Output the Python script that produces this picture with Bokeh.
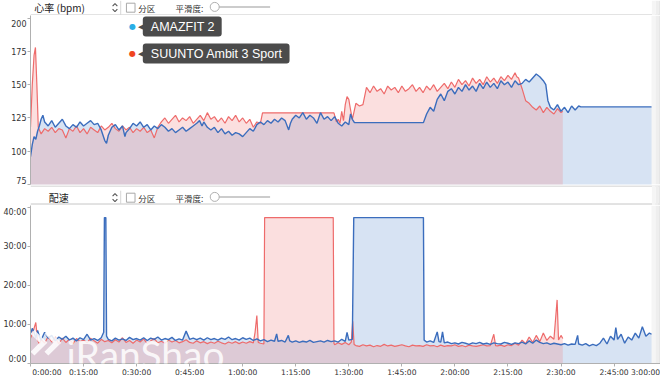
from bokeh.plotting import figure
from bokeh.layouts import column
from bokeh.models import Range1d, FixedTicker, Label
from bokeh.embed import file_html
from bokeh.resources import INLINE
from bokeh.core.properties import value

# ---------------- data (time in minutes, value) ----------------
series_names = ["AMAZFIT 2", "SUUNTO Ambit 3 Sport"]

hr_amazfit = [
    (0, 96), (0.5, 105), (1, 111), (1.5, 109), (2, 115), (2.5, 119), (3, 124), (3.5, 127), (4, 122),
    (5, 119), (6, 123), (7, 118), (8, 121), (9, 124), (10, 119), (11, 117), (12, 120), (13, 118),
    (14, 122), (15, 119), (16, 121), (17, 123), (18, 120), (19, 121), (20, 116), (21, 108), (21.5, 106),
    (22, 112), (23, 118), (24, 120), (25, 116), (26, 119), (26.7, 111), (27, 114), (28, 117), (29, 121),
    (30, 119), (31, 122), (32, 118), (33, 120), (34, 116), (35, 119), (36, 117), (37, 120), (38, 118),
    (39, 115), (40, 117), (41, 114), (42, 116), (43, 118), (44, 115), (45, 117), (46, 119), (47, 121),
    (47.8, 123), (48.5, 119), (49, 122), (50, 118), (51, 116), (52, 118), (53, 114), (54, 117), (55, 113),
    (56, 115), (57, 112), (58, 114), (59, 113), (60, 111), (61, 114), (62, 117), (63, 115), (64, 120),
    (65, 122), (66, 120), (67, 123), (68, 121), (69, 124), (70, 122), (71, 125), (72, 123), (73, 116),
    (73.5, 121), (74, 124), (75, 127), (76, 125), (77, 129), (78, 124), (79, 127), (80, 125), (81, 121),
    (82, 129), (83, 124), (84, 126), (85, 123), (86, 126), (87, 121), (88, 119), (89, 122), (90, 120),
    (90.5, 128), (91, 124), (91.6, 121.5), (111.1, 121.5), (112, 128), (113, 133), (114, 130), (115, 139),
    (116, 143), (117, 138), (118, 145), (119, 147), (120, 143), (121, 148), (122, 145), (123, 150),
    (124, 146), (125, 149), (126, 145), (127, 151), (128, 147), (129, 152), (130, 148), (131, 151),
    (132, 147), (133, 153), (134, 150), (135, 152), (136, 148), (137, 153), (138, 150), (139, 151),
    (140, 154), (141, 152), (142, 155), (143, 158), (144, 156), (145, 153), (145.7, 150), (146.3, 138),
    (147, 133), (148, 131), (149, 135), (150, 130), (151, 133), (152, 129), (153, 134), (154, 131),
    (155, 134), (155.6, 133.3), (175.6, 133.3),
]

hr_suunto = [
    (0, 118), (0.5, 150), (1, 172), (1.4, 178), (1.8, 150), (2.2, 118), (3, 113), (4, 117), (5, 115),
    (6, 118), (7, 114), (8, 117), (9, 116), (10, 110), (11, 117), (12, 115), (13, 119), (14, 114),
    (15, 117), (16, 113), (17, 118), (18, 116), (19, 114), (20, 119), (21, 116), (22, 118), (23, 121),
    (24, 117), (25, 115), (26, 119), (27, 116), (28, 118), (29, 114), (30, 117), (31, 115), (32, 118),
    (33, 114), (34, 116), (35, 110), (36, 118), (37, 122), (38, 125), (39, 121), (40, 124), (41, 127),
    (42, 122), (43, 125), (44, 123), (45, 126), (46, 121), (47, 124), (48, 127), (49, 123), (50, 129),
    (51, 124), (52, 126), (53, 122), (54, 125), (55, 121), (56, 126), (57, 123), (58, 127), (59, 122),
    (60, 125), (61, 121), (62, 124), (63, 118), (64, 122), (65, 121), (65.6, 128.8), (85.8, 128.8),
    (86.5, 122), (87, 124), (87.5, 121), (88, 130), (88.5, 123), (89, 135), (89.5, 141), (90, 139),
    (90.5, 131), (91, 124), (91.5, 130), (92, 136), (93, 134), (94, 135), (95, 148), (96, 144), (97, 149),
    (98, 145), (99, 147), (100, 143), (101, 149), (102, 146), (103, 148), (104, 144), (105, 149),
    (106, 145), (107, 147), (108, 150), (109, 145), (110, 148), (111, 144), (112, 149), (113, 146),
    (114, 150), (115, 145), (116, 148), (117, 151), (118, 147), (119, 152), (120, 148), (121, 154),
    (122, 150), (123, 153), (124, 149), (125, 155), (126, 151), (127, 154), (128, 150), (129, 156),
    (130, 152), (131, 155), (132, 151), (133, 156), (134, 153), (135, 157), (136, 154), (137, 159),
    (137.5, 156), (138, 155), (139, 147), (140, 138), (141, 136), (142, 133), (143, 131), (144, 134),
    (145, 129), (146, 133), (147, 130), (148, 128), (149, 132), (150, 129), (150.5, 130),
]

pace_amazfit = [
    (0, 7.5), (0.5, 9.0), (1, 8.0), (1.5, 6.5), (2, 8.5), (2.5, 7.0), (3, 6.0), (4, 8.0), (5, 6.5),
    (6, 7.2), (7, 5.8), (8, 6.8), (9, 6.2), (10, 7.0), (11, 6.0), (12, 6.5), (13, 5.8), (14, 6.6),
    (15, 6.1), (16, 7.5), (17, 6.0), (18, 6.4), (19, 5.9), (20, 6.6), (20.7, 8.0), (20.9, 37.4),
    (21.3, 37.4), (21.5, 7.0), (22, 6.2), (23, 5.8), (24, 6.5), (25, 6.0), (26, 6.3), (27, 5.9),
    (28, 6.7), (29, 6.1), (30, 6.4), (31, 6.0), (32, 6.6), (33, 5.9), (34, 6.5), (35, 6.2), (36, 6.8),
    (37, 6.0), (38, 6.4), (39, 6.1), (40, 6.7), (41, 5.9), (42, 6.3), (43, 6.0), (44, 8.3), (45, 6.2),
    (46, 6.5), (47, 6.1), (48, 6.5), (49, 6.0), (50, 6.6), (51, 6.1), (52, 6.4), (53, 6.0), (54, 6.5),
    (55, 6.2), (56, 6.8), (57, 6.1), (58, 6.4), (59, 6.0), (60, 6.6), (61, 6.2), (62, 6.5), (63, 5.9),
    (64, 6.3), (65, 5.8), (66, 6.1), (67, 5.6), (68, 6.0), (69, 5.7), (69.6, 7.6), (70, 5.7), (71, 5.9),
    (72, 5.5), (72.9, 7.2), (73.3, 5.8), (74, 5.5), (75, 5.8), (76, 5.4), (77, 5.7), (78, 5.5), (79, 5.9),
    (80, 5.4), (81, 5.6), (82, 5.8), (83, 5.5), (84, 5.9), (85, 5.6), (86, 5.8), (87, 5.5), (88, 6.2),
    (89, 5.7), (89.5, 8.0), (90, 6.0), (91, 6.2), (91.4, 37.4), (111.1, 37.4), (111.3, 6.0), (112, 5.5),
    (113, 5.8), (114, 5.4), (115, 8.1), (115.5, 5.6), (116, 5.5), (116.5, 8.1), (117, 5.3), (118, 5.5),
    (119, 5.1), (120, 5.3), (121, 5.0), (122, 5.4), (123, 5.2), (124, 4.9), (125, 5.3), (126, 5.1),
    (127, 5.4), (128, 5.0), (129, 5.2), (130, 4.9), (131, 5.3), (132, 5.1), (133, 5.0), (134, 5.4),
    (135, 5.2), (136, 4.9), (137, 5.3), (138, 5.1), (139, 5.5), (140, 5.0), (141, 5.8), (142, 5.2),
    (143, 6.0), (144, 5.4), (145, 5.1), (146, 5.3), (147, 4.9), (148, 5.2), (149, 5.0), (150, 4.8),
    (151, 5.1), (152, 4.7), (153, 5.0), (154, 4.9), (154.7, 7.2), (155, 5.0), (156, 4.7), (157, 5.1),
    (158, 4.5), (159, 4.9), (160, 4.6), (161, 5.2), (162, 6.5), (163, 5.0), (164, 7.0), (165, 6.0),
    (165.5, 9.2), (166, 6.2), (167, 7.5), (168, 5.2), (169, 6.8), (170, 6.0), (171, 7.8), (172, 6.5),
    (173, 9.4), (174, 7.0), (175, 7.8), (175.6, 7.5),
]

pace_suunto = [
    (0, 6.5), (0.5, 7.5), (1, 9.0), (1.5, 10.5), (2, 6.0), (2.5, 5.0), (3, 6.2), (4, 5.2), (5, 7.0),
    (6, 5.5), (7, 6.8), (8, 5.0), (9, 6.5), (10, 5.4), (11, 6.2), (12, 5.1), (13, 6.4), (14, 5.6),
    (15, 6.0), (16, 5.3), (17, 6.5), (18, 5.8), (19, 5.2), (20, 6.2), (21, 5.6), (22, 5.9), (23, 5.3),
    (24, 6.1), (25, 5.5), (26, 6.6), (27, 5.4), (28, 5.9), (29, 5.2), (30, 6.0), (31, 5.5), (32, 6.3),
    (33, 5.1), (34, 5.8), (35, 6.4), (36, 5.3), (37, 5.7), (38, 5.2), (39, 6.0), (40, 5.5), (41, 5.9),
    (42, 5.3), (43, 5.6), (44, 6.1), (45, 5.4), (46, 5.2), (47, 5.8), (48, 5.3), (49, 5.6), (50, 5.1),
    (51, 5.5), (52, 5.2), (53, 5.7), (54, 5.3), (55, 5.0), (56, 5.5), (57, 5.2), (58, 5.6), (59, 5.1),
    (60, 5.5), (61, 5.2), (62, 5.6), (63, 5.3), (63.5, 8.0), (64, 12.3), (64.4, 5.4), (65, 5.2),
    (66, 5.0), (66.2, 37.4), (85.6, 37.4), (85.8, 5.2), (86, 4.8), (87, 5.3), (88, 4.9), (89, 5.4),
    (90, 4.8), (90.7, 5.5), (91.1, 10.8), (91.5, 4.9), (92, 4.6), (93, 4.4), (94, 4.8), (95, 4.5),
    (96, 4.7), (97, 4.3), (98, 4.6), (99, 4.4), (100, 4.9), (101, 4.5), (102, 4.7), (103, 4.4),
    (104, 4.6), (105, 4.8), (106, 4.5), (107, 4.3), (108, 4.7), (109, 4.5), (110, 4.6), (111, 4.4),
    (112, 4.8), (113, 4.5), (114, 4.6), (115, 4.3), (116, 4.7), (117, 4.4), (118, 4.6), (119, 4.5),
    (120, 4.8), (121, 4.4), (122, 4.6), (123, 4.3), (124, 4.7), (125, 4.5), (126, 4.4), (127, 4.6),
    (128, 4.8), (129, 4.5), (130, 4.6), (131, 7.5), (131.5, 4.6), (132, 4.5), (133, 4.7), (134, 4.4),
    (135, 4.8), (136, 4.6), (137, 5.2), (138, 4.7), (139, 6.0), (140, 5.1), (141, 6.8), (142, 5.4),
    (143, 7.2), (144, 5.6), (145, 7.8), (146, 5.9), (147, 7.0), (148, 6.2), (148.9, 16.3), (149.3, 6.0),
    (150, 7.2), (150.5, 6.4),
]

hr_ticks = [75, 100, 125, 150, 175, 200]
pace_ticks = [0, 10, 20, 30, 40]
pace_tick_labels = ["0:00", "10:00", "20:00", "30:00", "40:00"]
time_ticks = [0, 15, 30, 45, 60, 75, 90, 105, 120, 135, 150, 165]
time_tick_labels = ["0:00:00", "0:15:00", "0:30:00", "0:45:00", "1:00:00", "1:15:00",
                    "1:30:00", "1:45:00", "2:00:00", "2:15:00", "2:30:00", "2:45:00", "3:00:00"]

# ---------------- styles ----------------
W = 660
BLUE = "#3b6dbd"
RED = "#ee6b6b"
BLUE_FILL = "#7ba3d8"
RED_FILL = "#f08080"
AXIS_FONT = "DejaVu Sans"
CJK = "Noto Sans CJK SC"

X_END = 175.6            # minutes covered by the data area
DATA_W = 624             # px width of the data area (frame extends 9 px further, into the shadow)
SHADOW_W = 9
HR_RANGE = (75, 202)
HR_FRAME_H = 169
PACE_RANGE = (0, 40.5)
PACE_FRAME_H = 160

min_per_px = X_END / DATA_W
X_VIEW_END = X_END + SHADOW_W * min_per_px
SHADOW_STEPS = [(0, 4, "#f5f5f5"), (4, 7, "#eeeeee"), (7, 9, "#e6e6e6")]


def unzip(pairs):
    return [p[0] for p in pairs], [p[1] for p in pairs]


def bare(f):
    f.grid.visible = False
    f.outline_line_color = None
    f.title.visible = False
    f.background_fill_color = "#ffffff"
    f.border_fill_color = "#ffffff"


def header(h, cy, title, title_x, top_line, line_y):
    f = figure(width=W, height=h, x_range=Range1d(0, W), y_range=Range1d(h, 0),
               output_backend="svg", toolbar_location=None, min_border=0,
               x_axis_location=None, y_axis_location=None)
    bare(f)
    ly = [line_y] + ([0.5] if top_line else [])
    f.segment(x0=[0] * len(ly), y0=ly, x1=[W] * len(ly), y1=ly, line_color="#c6c6c6", line_width=1)
    f.segment(x0=[94.5], y0=[cy - 7], x1=[94.5], y1=[line_y], line_color="#d6d6d6", line_width=1)
    f.multi_line(xs=[[86, 88.5, 91], [86, 88.5, 91]],
                 ys=[[cy - 1.5, cy - 4, cy - 1.5], [cy + 1.5, cy + 4, cy + 1.5]],
                 line_color="#555555", line_width=1.1)
    f.rect(x=[105], y=[cy], width=9, height=9, fill_color="#ffffff", line_color="#a8a8a8")
    f.text(x=[title_x], y=[cy], text=[title], text_font=value(CJK), text_font_size="10px",
           text_baseline="middle", text_color="#222222")
    f.text(x=[113, 152], y=[cy, cy], text=["分区", "平滑度:"], text_font=value(CJK),
           text_font_size="8.5px", text_baseline="middle", text_color="#333333")
    f.segment(x0=[193], y0=[cy - 0.8], x1=[251], y1=[cy - 0.8], line_color="#cccccc", line_width=2)
    f.scatter(x=[193], y=[cy - 0.8], size=9, marker="circle", fill_color="#ffffff", line_color="#b0b0b0")
    # soft window shadow on the right edge
    base = W - SHADOW_W
    f.quad(left=[base + a for a, b, c in SHADOW_STEPS], right=[base + b for a, b, c in SHADOW_STEPS],
           bottom=[h] * 3, top=[0] * 3, fill_color=[c for a, b, c in SHADOW_STEPS], line_color=None)
    return f


def chart_shadow(p, y_lo, y_hi):
    p.quad(left=[X_END + a * min_per_px for a, b, c in SHADOW_STEPS],
           right=[X_END + b * min_per_px for a, b, c in SHADOW_STEPS],
           bottom=[y_lo] * 3, top=[y_hi] * 3,
           fill_color=[c for a, b, c in SHADOW_STEPS], line_color=None)


def style_axis(ax, tick_marks, label_pos, labels, size="8px"):
    # tick marks at the true values (minor ticks); labels at positions kept inside the edges
    ax.ticker = FixedTicker(ticks=label_pos, minor_ticks=tick_marks)
    ax.major_label_overrides = dict(zip(label_pos, labels))
    ax.axis_line_color = "#b0b0b0"
    ax.major_tick_line_color = None
    ax.minor_tick_line_color = "#b0b0b0"
    ax.minor_tick_in = 0
    ax.minor_tick_out = 3
    ax.major_tick_in = 0
    ax.major_tick_out = 3
    ax.major_label_standoff = 1
    ax.major_label_text_font = AXIS_FONT
    ax.major_label_text_font_size = size
    ax.major_label_text_color = "#333333"


def inset(vals, lo_px, hi_px, per_px):
    out = list(vals)
    out[0] = round(out[0] + lo_px * per_px, 2)
    out[-1] = round(out[-1] - hi_px * per_px, 2)
    return out


x_range = Range1d(0, X_VIEW_END)

# ---------------- heart-rate chart ----------------
h1 = header(15, 7.2, "心率 (bpm)", 4, False, 14.5)

p1 = figure(width=W, height=170, x_range=x_range, y_range=Range1d(*HR_RANGE),
            output_backend="svg", toolbar_location=None, x_axis_location=None,
            min_border_left=27, min_border_right=0, min_border_top=0, min_border_bottom=1)
bare(p1)
bpm_per_px = (HR_RANGE[1] - HR_RANGE[0]) / HR_FRAME_H
style_axis(p1.yaxis[0], hr_ticks, inset(hr_ticks, 4.5, 5, bpm_per_px), [str(t) for t in hr_ticks])
chart_shadow(p1, HR_RANGE[0], HR_RANGE[1])

ta, va = unzip(hr_amazfit)
ts, vs = unzip(hr_suunto)
p1.varea(x=ta, y1=0, y2=va, fill_color=BLUE_FILL, fill_alpha=0.3)
p1.varea(x=ts, y1=0, y2=vs, fill_color=RED_FILL, fill_alpha=0.25)
p1.line(ts, vs, line_color=RED, line_width=1.2)
p1.line(ta, va, line_color=BLUE, line_width=1.4)

# hover-style legend boxes (frame-relative screen units)
legend_rows = [(158, "#2aaee6"), (131, "#f0451e")]
for (sy, dot), name in zip(legend_rows, series_names):
    p1.add_layout(Label(x=102, y=sy, x_units="screen", y_units="screen", text="●",
                        text_color=dot, text_font="DejaVu Sans", text_font_size="8px",
                        text_align="center", text_baseline="middle"))
    p1.add_layout(Label(x=113, y=sy, x_units="screen", y_units="screen", text="◀",
                        text_color="#4b4b4b", text_font="DejaVu Sans", text_font_size="7px",
                        text_align="right", text_baseline="middle"))
    p1.add_layout(Label(x=112.3, y=sy, x_units="screen", y_units="screen", text=name,
                        text_color="#ffffff", text_font="Liberation Sans", text_font_size="12.5px",
                        text_align="left", text_baseline="middle",
                        background_fill_color="#4b4b4b", border_radius=3,
                        padding=dict(left=8, right=7, top=3, bottom=3)))

# ---------------- pace chart ----------------
h2 = header(20, 12.2, "配速", 19, True, 18.5)

p2 = figure(width=W, height=174, x_range=x_range, y_range=Range1d(*PACE_RANGE),
            output_backend="svg", toolbar_location=None,
            min_border_left=27, min_border_right=0, min_border_top=0, min_border_bottom=14)
bare(p2)
pace_per_px = (PACE_RANGE[1] - PACE_RANGE[0]) / PACE_FRAME_H
style_axis(p2.yaxis[0], pace_ticks, inset(pace_ticks, 4.5, 5, pace_per_px), pace_tick_labels)
# time labels: first nudged right of the edge, last (3:00:00) kept just inside the window
time_label_pos = [round(time_ticks[0] + 16.5 * min_per_px, 2)] + time_ticks[1:] + \
                 [round(X_END - 6 * min_per_px, 2)]
style_axis(p2.xaxis[0], time_ticks, time_label_pos, time_tick_labels, size="7.6px")
chart_shadow(p2, PACE_RANGE[0], PACE_RANGE[1])

pta, pva = unzip(pace_amazfit)
pts, pvs = unzip(pace_suunto)
p2.varea(x=pta, y1=0, y2=pva, fill_color=BLUE_FILL, fill_alpha=0.3)
p2.varea(x=pts, y1=0, y2=pvs, fill_color=RED_FILL, fill_alpha=0.25)
p2.line(pts, pvs, line_color=RED, line_width=1.2)
p2.line(pta, pva, line_color=BLUE, line_width=1.4)


# watermark: double-chevron logo (drawn from pixel offsets inside the frame) + wordmark
def frame_px(px, py):
    # px from frame left, py from frame bottom -> data coordinates
    return px * min_per_px, py * pace_per_px


logo_px = [[(2, 32), (13, 21), (2, 10)], [(16, 32), (27, 21), (16, 10)]]
p2.multi_line(xs=[[frame_px(a, b)[0] for a, b in c] for c in logo_px],
              ys=[[frame_px(a, b)[1] for a, b in c] for c in logo_px],
              line_color="#ffffff", line_alpha=0.85, line_width=5.5, line_join="miter")
p2.add_layout(Label(x=36, y=10, x_units="screen", y_units="screen", text="iRanShao",
                    text_color="#ffffff", text_alpha=0.85, text_font="Lato",
                    text_font_size="39px", text_baseline="alphabetic"))

layout = column(h1, p1, h2, p2, spacing=0)
open("out.html", "w").write(file_html(layout, INLINE))
